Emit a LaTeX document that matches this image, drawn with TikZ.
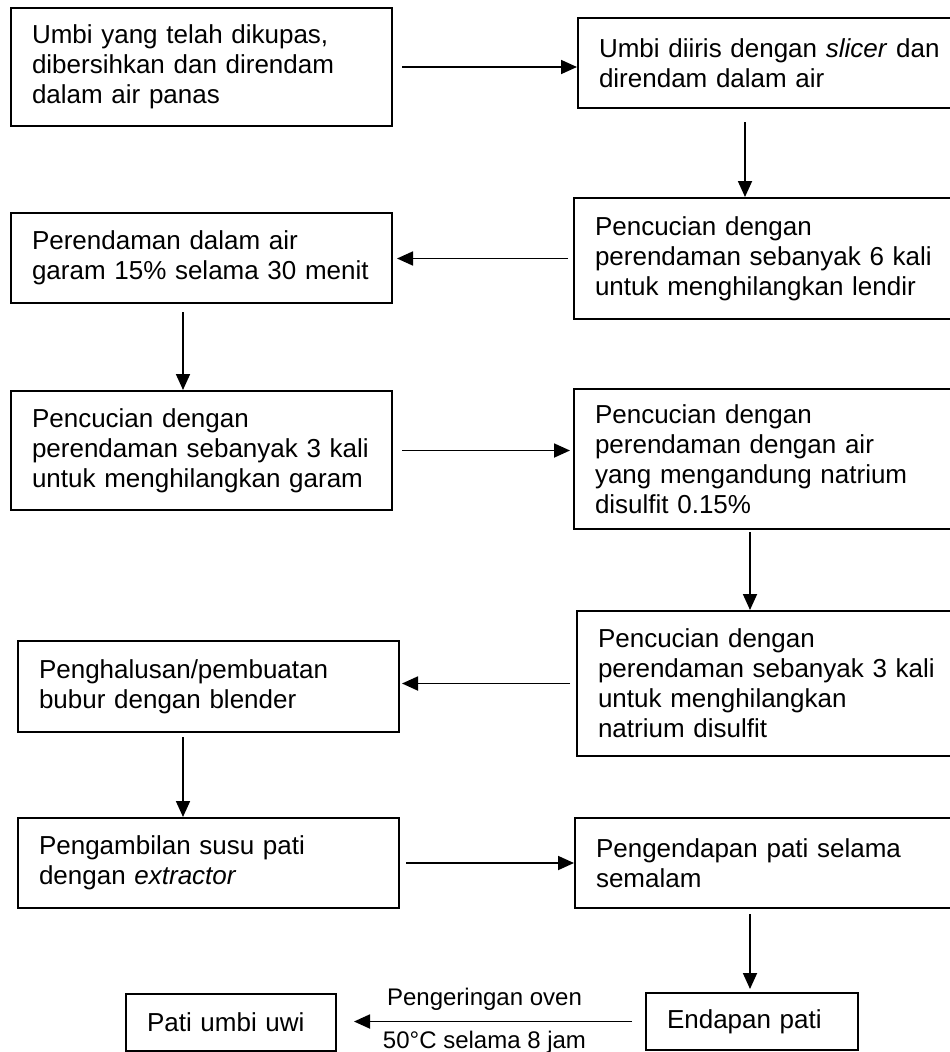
\documentclass[tikz,border=0pt]{standalone}
\usepackage{fontspec}
\setmainfont{Liberation Sans}
\usetikzlibrary{arrows.meta}

\begin{document}
\begin{tikzpicture}[x=1pt,y=-1pt,
  box/.style={draw,line width=2pt,anchor=north west,align=left,inner xsep=21pt,inner ysep=0pt,font=\fontsize{26}{30}\selectfont},
  arr/.style={line width=1.8pt,-{Triangle[length=16pt,width=14pt]}},
  lbl/.style={font=\fontsize{24}{28}\selectfont,inner sep=0pt}]
\useasboundingbox (0,0) rectangle (950,1052);

\node[box,minimum width=381pt,minimum height=118pt,text width=339pt] (umbi) at (10,7) {Umbi yang telah dikupas,\\dibersihkan dan direndam\\dalam air panas};
\node[box,minimum width=383pt,minimum height=90pt,text width=341pt] (iris) at (577,17) {Umbi diiris dengan \textit{slicer} dan\\direndam dalam air};
\node[box,minimum width=387pt,minimum height=121pt,text width=345pt] (cuci6) at (573,197) {Pencucian dengan\\perendaman sebanyak 6 kali\\untuk menghilangkan lendir};
\node[box,minimum width=381pt,minimum height=90pt,text width=339pt] (garam) at (10,212) {Perendaman dalam air\\garam 15\% selama 30 menit};
\node[box,minimum width=381pt,minimum height=119pt,text width=339pt] (cuci3) at (10,390) {Pencucian dengan\\perendaman sebanyak 3 kali\\untuk menghilangkan garam};
\node[box,minimum width=387pt,minimum height=140pt,text width=345pt] (disulfit) at (573,388) {Pencucian dengan\\perendaman dengan air\\yang mengandung natrium\\disulfit 0.15\%};
\node[box,minimum width=384pt,minimum height=145pt,text width=342pt] (cuciNa) at (576,610) {Pencucian dengan\\perendaman sebanyak 3 kali\\untuk menghilangkan\\natrium disulfit};
\node[box,minimum width=381pt,minimum height=91pt,text width=339pt] (halus) at (17,640) {Penghalusan/pembuatan\\bubur dengan blender};
\node[box,minimum width=381pt,minimum height=90pt,text width=339pt] (ekstrak) at (17,817) {Pengambilan susu pati\\dengan \textit{extractor}};
\node[box,minimum width=386pt,minimum height=90pt,text width=344pt] (endap) at (574,817) {Pengendapan pati selama\\semalam};
\node[box,minimum width=212pt,minimum height=57pt,text width=170pt] (endapan) at (645,992) {Endapan pati};
\node[box,minimum width=210pt,minimum height=57pt,text width=168pt] (pati) at (125,993) {Pati umbi uwi};

\draw[arr] ([xshift=9pt]umbi.east) -- (umbi.east -| iris.west);
\draw[arr] ([xshift=168pt,yshift=-13pt]iris.south west) -- ([xshift=172pt]cuci6.north west);
\draw[arr,shorten >=4pt] ([xshift=-5pt]cuci6.west) -- (cuci6.west -| garam.east);
\draw[arr] ([xshift=173pt,yshift=-8pt]garam.south west) -- ([xshift=173pt]cuci3.north west);
\draw[arr,shorten >=3pt] ([xshift=9pt]cuci3.east) -- (cuci3.east -| disulfit.west);
\draw[arr] ([xshift=177pt,yshift=-2pt]disulfit.south west) -- ([xshift=174pt]cuciNa.north west);
\draw[arr,shorten >=2pt] ([xshift=-6pt]cuciNa.west) -- (cuciNa.west -| halus.east);
\draw[arr] ([xshift=166pt,yshift=-4pt]halus.south west) -- ([xshift=166pt]ekstrak.north west);
\draw[arr] ([xshift=6pt]ekstrak.east) -- (ekstrak.east -| endap.west);
\draw[arr,shorten >=3pt] ([xshift=176pt,yshift=-5pt]endap.south west) -- ([xshift=105pt]endapan.north west);
\draw[arr,shorten >=17pt] ([xshift=-13pt]endapan.west) -- (endapan.west -| pati.east)
  node[lbl,midway,above=10pt] {Pengeringan oven}
  node[lbl,midway,below=9pt] {50°C selama 8 jam};
\end{tikzpicture}
\end{document}
